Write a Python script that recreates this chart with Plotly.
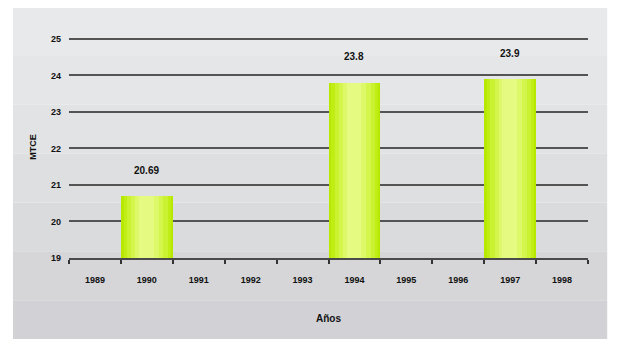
import plotly.graph_objects as go

years = ["1989", "1990", "1991", "1992", "1993", "1994", "1995", "1996", "1997", "1998"]
bar_years = ["1990", "1994", "1997"]
bar_values = [20.69, 23.8, 23.9]
bar_labels = ["20.69", "23.8", "23.9"]
y_ticks = [19, 20, 21, 22, 23, 24, 25]

# horizontal shading of the bars, faked with overlaid narrower bars
shade = [
    (0.00, 1.00, "#b6e800"),
    (0.05, 0.96, "#c0ee14"),
    (0.12, 0.90, "#caf230"),
    (0.20, 0.82, "#d4f64c"),
    (0.28, 0.73, "#ddf868"),
    (0.35, 0.63, "#e5fa80"),
]

fig = go.Figure()

for start, end, col in shade:
    fig.add_trace(go.Bar(
        x=bar_years, y=bar_values,
        width=end - start, offset=start - 0.5,
        marker=dict(color=col, line=dict(width=0)),
        showlegend=False, hoverinfo="skip",
    ))

for yr, v, lab in zip(bar_years, bar_values, bar_labels):
    fig.add_annotation(x=years.index(yr), y=v, text=lab, showarrow=False, yshift=26,
                       font=dict(family="Liberation Sans", size=10, color="#111", weight="bold"))

# background panel with a soft vertical fade
bands = ["#e8e9ea", "#e5e6e7", "#e2e3e4", "#dedfe0", "#dadbdd", "#d6d6d9", "#d2d2d6"]
n = len(bands)
top, bot = 1.13, -0.41
for i, c in enumerate(bands):
    fig.add_shape(type="rect", xref="paper", yref="paper",
                  x0=-0.108, x1=1.037,
                  y0=top - (top - bot) * (i + 1) / n, y1=top - (top - bot) * i / n,
                  fillcolor=c, line=dict(width=0), layer="below")

fig.update_layout(
    width=618, height=339,
    margin=dict(l=61, r=38, t=28, b=89),
    paper_bgcolor="white",
    plot_bgcolor="rgba(0,0,0,0)",
    barmode="overlay",
    bargap=0,
    xaxis=dict(
        type="category", categoryorder="array", categoryarray=years,
        range=[-0.5, len(years) - 0.5], automargin=False,
        tickmode="array", tickvals=list(range(len(years))), ticktext=years,
        tickson="boundaries", ticks="outside", ticklen=4, tickwidth=1.5, tickcolor="#333",
        showline=True, linecolor="#4a4a4a", linewidth=2,
        showgrid=False,
        ticklabelstandoff=12,
        tickfont=dict(family="Liberation Sans", size=9, color="#111", weight="bold"),
        title=dict(text="Años", standoff=31,
                   font=dict(family="Liberation Sans", size=10, color="#111", weight="bold")),
    ),
    yaxis=dict(
        range=[19, 25.08], tickvals=y_ticks, automargin=False,
        showgrid=True, gridcolor="#545454", gridwidth=2,
        zeroline=False, showline=False, ticks="",
        tickfont=dict(family="Liberation Sans", size=9, color="#111", weight="bold"),
        ticklabelstandoff=7,
        title=dict(text="MTCE", standoff=12,
                   font=dict(family="Liberation Sans", size=9, color="#111", weight="bold")),
    ),
)

fig.write_html("out.html")
